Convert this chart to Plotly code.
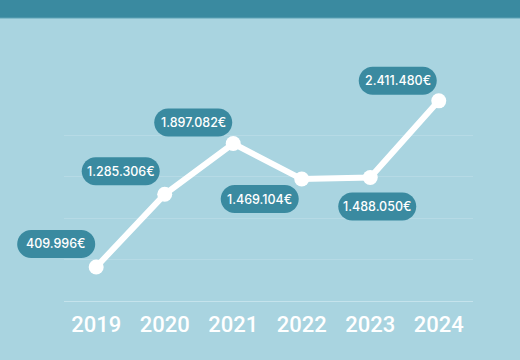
import plotly.graph_objects as go

years = ["2019", "2020", "2021", "2022", "2023", "2024"]
values = [409996, 1285306, 1897082, 1469104, 1488050, 2411480]
labels = ["409.996€", "1.285.306€", "1.897.082€", "1.469.104€", "1.488.050€", "2.411.480€"]

# label pill offsets from the point, in screen pixels (dx right, dy down)
label_offsets = [(-40, -23), (-44, -23), (-40, -21), (-42, 20), (7, 29), (-41, -20)]

BG = "#A9D4E0"
TEAL = "#3A8AA0"
xs = list(range(len(years)))
XR = [-0.47, 5.5]
YR = [0, 2506000]

fig = go.Figure()
fig.add_trace(go.Scatter(
    x=xs, y=values, mode="lines+markers",
    line=dict(color="white", width=6),
    marker=dict(color="white", size=15),
    cliponaxis=False, hoverinfo="skip",
))


def pill_path(cx, cy, w=78, h=28):
    r = h / 2
    k = 0.5523 * r
    l, rr = cx - w / 2, cx + w / 2
    b, t = cy - h / 2, cy + h / 2
    return (
        f"M {l + r},{b} H {rr - r} "
        f"C {rr - r + k},{b} {rr},{cy - k} {rr},{cy} "
        f"C {rr},{cy + k} {rr - r + k},{t} {rr - r},{t} "
        f"H {l + r} "
        f"C {l + r - k},{t} {l},{cy + k} {l},{cy} "
        f"C {l},{cy - k} {l + r - k},{b} {l + r},{b} Z"
    )


shapes = []
annotations = []
for x, v, lab, (dx, dy) in zip(xs, values, labels, label_offsets):
    px = (x - XR[0]) / (XR[1] - XR[0])
    py = (v - YR[0]) / (YR[1] - YR[0])
    shapes.append(dict(
        type="path", xref="paper", yref="paper", xsizemode="pixel", ysizemode="pixel",
        xanchor=px, yanchor=py, path=pill_path(dx, -dy),
        fillcolor=TEAL, line=dict(width=0), layer="above",
    ))
    annotations.append(dict(
        x=x, y=v, xref="x", yref="y", text=lab, showarrow=False,
        xshift=dx, yshift=-dy, xanchor="center", yanchor="middle",
        font=dict(family="Inter", size=12.5, color="white", weight=500),
    ))

# header band
shapes.append(dict(
    type="rect", xref="paper", yref="paper", xsizemode="pixel", ysizemode="pixel",
    xanchor=0, yanchor=1, x0=-80, x1=480, y0=75, y1=110,
    fillcolor=TEAL, line=dict(width=0), layer="below",
))
shapes.append(dict(
    type="line", xref="paper", yref="paper", xsizemode="pixel", ysizemode="pixel",
    xanchor=0, yanchor=1, x0=-80, x1=480, y0=75, y1=75,
    line=dict(color="#5FA3B6", width=1), layer="below",
))

fig.update_layout(
    width=520, height=360,
    margin=dict(l=64, r=47, t=93, b=59),
    paper_bgcolor=BG, plot_bgcolor=BG,
    showlegend=False,
    shapes=shapes, annotations=annotations,
    xaxis=dict(
        range=XR, tickvals=xs, ticktext=years,
        showgrid=False, zeroline=False, showline=False,
        ticks="", ticklabelstandoff=8,
        tickfont=dict(family="Roboto", size=22, color="white", weight=500),
    ),
    yaxis=dict(
        range=YR, dtick=500000, showticklabels=False,
        showgrid=True, gridcolor="#B6DAE5", gridwidth=1,
        zeroline=True, zerolinecolor="#C5E3EC", zerolinewidth=1,
        showline=False,
    ),
)

fig.write_html(
    "out.html",
    config={"displayModeBar": False},
    post_script="document.body.style.margin='0';document.body.style.overflow='hidden';",
)
